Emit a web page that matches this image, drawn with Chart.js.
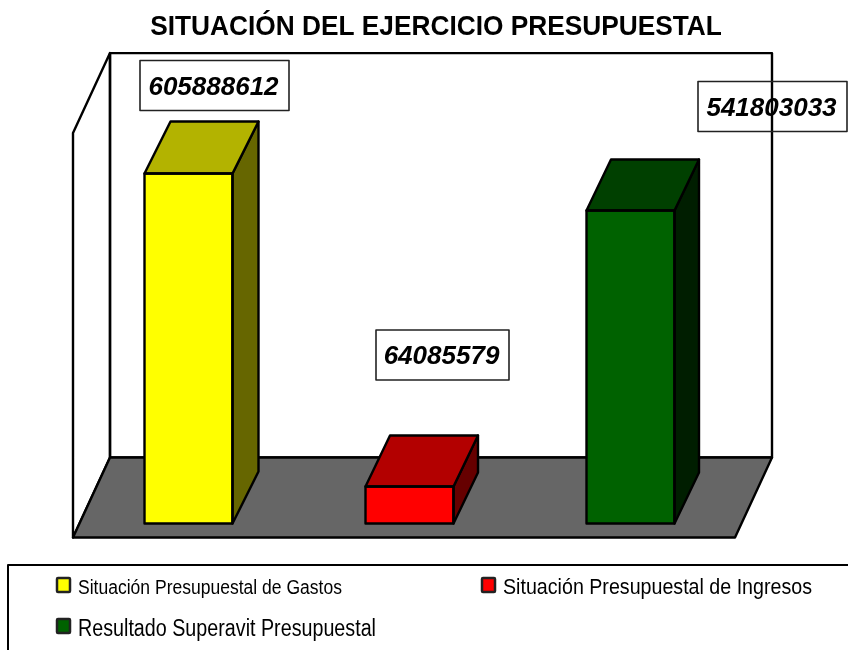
<!DOCTYPE html>
<html>
<head>
<meta charset="utf-8">
<style>html,body{margin:0;padding:0;background:#fff;overflow:hidden}canvas{display:block}</style>
<script src="https://cdn.jsdelivr.net/npm/chart.js@4/dist/chart.umd.min.js"></script>
</head>
<body>
<canvas id="c" width="848" height="650"></canvas>
<script>
const titleText = 'SITUACIÓN DEL EJERCICIO PRESUPUESTAL';
const categories = ['Situación Presupuestal de Gastos', 'Situación Presupuestal de Ingresos', 'Resultado Superavit Presupuestal'];
const values = [605888612, 64085579, 541803033];
const frontColors = ['#ffff00', '#ff0000', '#006200'];
const topColors = ['#b3b300', '#b30000', '#004000'];
const sideColors = ['#666600', '#660000', '#001e00'];
const labelOffsets = [[26, -88], [33, -131.5], [142, -104]];
const depthX = [26, 24.5, 24.5];
const depthY = [-52, -51, -51];
const legendFonts = [20, 22, 23];
const legendSlots = [[56, 577, 78, 264, 594], [481, 577, 503, 309, 594], [56, 618, 78, 298, 636]];
const axisMax = 700000000;
const FONT = '"Liberation Sans", Arial, sans-serif';
const titleSqueeze = 0.938;

function poly(ctx, pts, fill) {
  ctx.beginPath();
  pts.forEach((p, i) => i ? ctx.lineTo(p[0], p[1]) : ctx.moveTo(p[0], p[1]));
  ctx.closePath();
  if (fill) { ctx.fillStyle = fill; ctx.fill(); }
  ctx.stroke();
}

const scene = {
  id: 'scene',
  afterLayout(chart) {
    const t = chart.titleBlock;
    t.left += 26.5;
    t.right += 26.5;
    if (!t._wrapped) {
      const draw = t.draw;
      t.draw = function () {
        const ctx = chart.ctx, c = 436;
        ctx.save();
        ctx.translate(c, 0);
        ctx.scale(titleSqueeze, 1);
        ctx.translate(-c, 0);
        draw.call(t);
        ctx.restore();
      };
      t._wrapped = true;
    }
  },
  beforeDatasetsDraw(chart) {
    const ctx = chart.ctx, y = chart.scales.y, a = chart.chartArea;
    const y0 = y.getPixelForValue(0) + 14, y1 = y.getPixelForValue(axisMax) + 14;
    const x0 = a.left - 5, w = 662, bx = 37, by = -80;
    ctx.save();
    ctx.strokeStyle = '#000'; ctx.lineWidth = 2.4; ctx.lineJoin = 'round';
    poly(ctx, [[x0, y0], [x0, y1], [x0 + bx, y1 + by], [x0 + bx, y0 + by]]);
    poly(ctx, [[x0 + bx, y1 + by], [x0 + bx + w, y1 + by], [x0 + bx + w, y0 + by], [x0 + bx, y0 + by]]);
    poly(ctx, [[x0, y0], [x0 + bx, y0 + by], [x0 + bx + w, y0 + by], [x0 + w, y0]], '#666666');
    ctx.restore();
  },
  afterDatasetsDraw(chart) {
    const ctx = chart.ctx;
    const bars = chart.getDatasetMeta(0).data;
    ctx.save();
    ctx.strokeStyle = '#000'; ctx.lineWidth = 2.4; ctx.lineJoin = 'round';
    bars.forEach((b, i) => {
      const l = b.x - b.width / 2, r = b.x + b.width / 2, t = b.y, e = b.base;
      const dx = depthX[i], dy = depthY[i];
      poly(ctx, [[r, t], [r + dx, t + dy], [r + dx, e + dy], [r, e]], sideColors[i]);
      poly(ctx, [[l, t], [l + dx, t + dy], [r + dx, t + dy], [r, t]], topColors[i]);
      poly(ctx, [[l, t], [r, t], [r, e], [l, e]]);
    });
    bars.forEach((b, i) => {
      const cx = b.x + labelOffsets[i][0], cy = b.y + labelOffsets[i][1];
      ctx.strokeStyle = '#222'; ctx.lineWidth = 1.6;
      const w = String(values[i]).length === 8 ? 133 : 149;
      ctx.strokeRect(cx - w / 2, cy - 25, w, 50);
      ctx.fillStyle = '#000';
      ctx.font = 'italic bold 26px ' + FONT;
      ctx.textAlign = 'center'; ctx.textBaseline = 'middle';
      ctx.fillText(String(values[i]), cx - 1, cy + 2);
    });
    ctx.strokeStyle = '#000'; ctx.lineWidth = 2;
    ctx.beginPath(); ctx.moveTo(849, 565); ctx.lineTo(8, 565); ctx.lineTo(8, 651); ctx.stroke();
    categories.forEach((label, i) => {
      const s = legendSlots[i];
      ctx.lineWidth = 2.5; ctx.strokeStyle = '#222'; ctx.fillStyle = frontColors[i];
      ctx.beginPath(); ctx.roundRect(s[0] + 1, s[1] + 1, 13, 14, 1); ctx.fill(); ctx.stroke();
      ctx.font = legendFonts[i] + 'px ' + FONT;
      ctx.textAlign = 'left'; ctx.textBaseline = 'alphabetic'; ctx.fillStyle = '#000';
      const natural = ctx.measureText(label).width;
      ctx.save();
      ctx.translate(s[2], s[4]);
      ctx.scale(s[3] / natural, 1);
      ctx.fillText(label, 0, 0);
      ctx.restore();
    });
    ctx.restore();
  }
};

new Chart(document.getElementById('c'), {
  type: 'bar',
  data: {
    labels: categories,
    datasets: [{
      data: values,
      backgroundColor: frontColors,
      borderColor: '#000',
      borderWidth: 0,
      borderSkipped: false,
      barThickness: 88
    }]
  },
  options: {
    responsive: false,
    animation: false,
    layout: { padding: { left: 78, right: 107, top: 10.5, bottom: 126.5 } },
    scales: {
      x: { display: false },
      y: { display: false, min: 0, max: axisMax }
    },
    plugins: {
      legend: { display: false },
      tooltip: { enabled: false },
      title: {
        display: true,
        text: titleText,
        color: '#000',
        font: { family: FONT, size: 28, weight: 'bold', lineHeight: 1.2 },
        padding: { top: 0, bottom: 75 }
      }
    }
  },
  plugins: [scene]
});
</script>
</body>
</html>
